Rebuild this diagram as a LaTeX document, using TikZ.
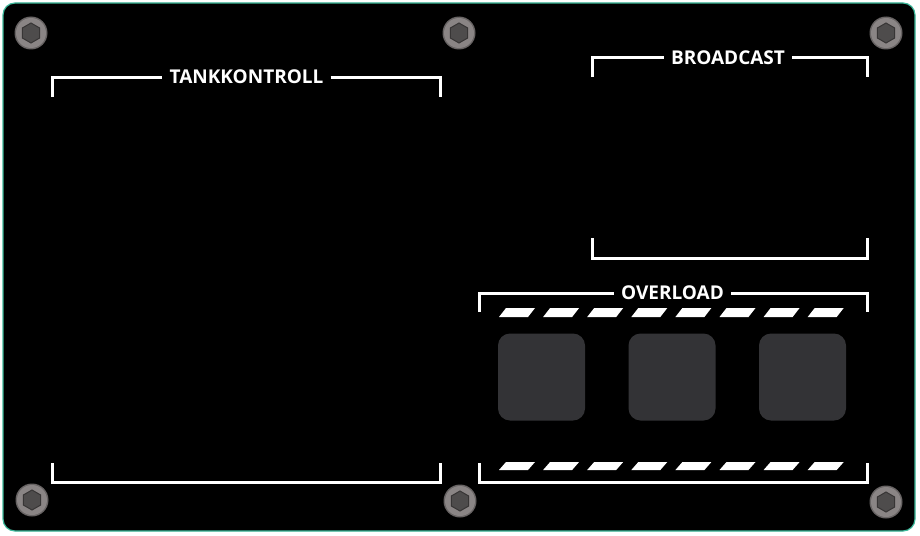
\documentclass[tikz,border=0pt]{standalone}
\usepackage{fontspec}
\setsansfont{Open Sans}
\definecolor{paneledge}{HTML}{3CB99B}
\definecolor{screwring}{HTML}{8A8585}
\definecolor{screwhead}{HTML}{4E4C4C}
\definecolor{padgray}{HTML}{333336}

\begin{document}
\begin{tikzpicture}[x=1pt,y=-1pt,
  bracket/.style={draw=white,line width=3pt},
  paneltitle/.style={text=white,inner xsep=7pt,inner ysep=1pt,font=\sffamily\bfseries\fontsize{19}{19}\selectfont},
  pad/.style={fill=padgray,rounded corners=12pt,minimum size=87pt,inner sep=0pt},
  stripe/.style={fill=white},
  screw/.pic={
    \fill[screwring!75!black] (0,0) circle (16.5);
    \fill[screwring] (0,0) circle (15);
    \filldraw[fill=screwhead,draw=screwhead!70!black,line width=1pt]
      (90:10) -- (150:10) -- (210:10) -- (270:10) -- (330:10) -- (390:10) -- cycle;
  },
]
  \fill[white] (0,0) rectangle (920,535);
  \draw[paneledge,fill=black,rounded corners=12pt,line width=1.2pt] (3,3) rectangle (915,531);
  \foreach \p [count=\k] in {(31,33),(459,33),(886,33),(32,500),(460,501),(886,502)}
    \pic (screw\k) at \p {screw};

  \node[paneltitle] (tank) at (246.5,77) {TANKKONTROLL};
  \draw[bracket] (52,97) |- (tank.west);
  \draw[bracket] (tank.east) -| (440,97);
  \draw[bracket] (52,463) |- (440,482) -- (440,463);

  \node[paneltitle] (cast) at (728,58) {BROADCAST};
  \draw[bracket] (592,77) |- (cast.west);
  \draw[bracket] (cast.east) -| (867,77);
  \draw[bracket] (592,238) |- (867,258) -- (867,238);

  \node[paneltitle] (load) at (672.5,293) {OVERLOAD};
  \draw[bracket] (479,312) |- (load.west);
  \draw[bracket] (load.east) -| (867,312);
  \draw[bracket] (479,463) |- (867,482) -- (867,463);

  \foreach \i in {0,...,7}{
    \fill[stripe] ({499+44.1*\i},317) -- ({528+44.1*\i},317) -- ({535+44.1*\i},308) -- ({506+44.1*\i},308) -- cycle;
    \fill[stripe] ({499+44.1*\i},470) -- ({528+44.1*\i},470) -- ({535+44.1*\i},462) -- ({506+44.1*\i},462) -- cycle;
  }
  \foreach \i in {0,1,2}
    \node[pad] (pad\i) at ({541.5+130.5*\i},377) {};
\end{tikzpicture}
\end{document}
